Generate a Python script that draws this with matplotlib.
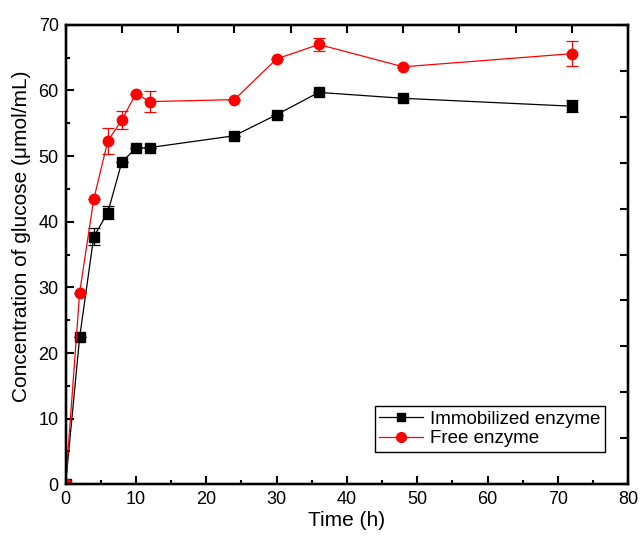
import matplotlib.pyplot as plt
from matplotlib.lines import Line2D
import numpy as np

plt.rcParams.update({
    'font.family': 'Liberation Sans',
    'font.size': 13,
    'xtick.direction': 'in',
    'ytick.direction': 'in',
})

# --- data ---
time_h = [0, 2, 4, 6, 8, 10, 12, 24, 30, 36, 48, 72]

immob = [0, 22.4, 37.7, 41.4, 49.1, 51.2, 51.3, 53.1, 56.3, 59.7, 58.8, 57.6]
immob_err = [0, 0, 1.3, 1.05, 0, 0, 0, 0, 0, 0, 0, 0.95]

free = [0, 29.2, 43.4, 52.3, 55.5, 59.5, 58.3, 58.6, 64.8, 67.0, 63.6, 65.6]
free_err = [0, 0, 0, 2.0, 1.35, 0, 1.55, 0, 0, 0.95, 0, 1.95]

fig = plt.figure(figsize=(6.43, 5.39), dpi=100)
ax = fig.add_axes([0.102, 0.1015, 0.875, 0.8525])

ax.errorbar(time_h, immob, yerr=immob_err, color='black', marker='s', markersize=6.5,
            linewidth=0.9, elinewidth=0.9, capsize=4, capthick=0.9)
ax.errorbar(time_h, free, yerr=free_err, color='red', marker='o', markersize=7.5,
            linewidth=0.9, elinewidth=0.9, capsize=4, capthick=0.9)

ax.set_xlim(0, 80)
ax.set_ylim(0, 70)
ax.set_xticks(np.arange(0, 81, 10))
ax.set_yticks(np.arange(0, 71, 10))
ax.set_xticks(np.arange(0, 81, 5), minor=True)
ax.set_yticks(np.arange(0, 71, 5), minor=True)
ax.tick_params(which='major', length=6, width=1.5, labelsize=13, pad=5)
ax.tick_params(which='minor', length=3, width=1.5)
for s in ax.spines.values():
    s.set_linewidth(1.6)

ax.set_xlabel('Time (h)', fontsize=15, labelpad=2)
ax.set_ylabel('Concentration of glucose (\u03bcmol/mL)', fontsize=15)
ax.yaxis.set_label_coords(-0.062, 0.54)

# top and right axes carry their own unlabelled ticks
axt = ax.twiny()
axt.set_xlim(0, 80)
axt.set_xticks(np.arange(0, 81, 8))
axt.tick_params(axis='x', length=6, width=1.5, labeltop=False, direction='in')
axr = ax.twinx()
axr.set_ylim(0, 70)
axr.set_yticks(np.arange(0, 71, 7))
axr.tick_params(axis='y', length=6, width=1.5, labelright=False, direction='in')
for a in (axt, axr):
    for s in a.spines.values():
        s.set_linewidth(1.6)

handles = [
    Line2D([], [], color='black', marker='s', markersize=6, linewidth=0.9),
    Line2D([], [], color='red', marker='o', markersize=7, linewidth=0.9),
]
leg = ax.legend(handles, ['Immobilized enzyme', 'Free enzyme'],
                loc='lower right', bbox_to_anchor=(0.959, 0.070), borderaxespad=0,
                fancybox=False, edgecolor='black', framealpha=1, fontsize=13.5,
                handlelength=2.3, borderpad=0.25, labelspacing=0.15,
                handletextpad=0.4)
leg.get_frame().set_linewidth(1.0)

fig.savefig('out.png', dpi=100)
